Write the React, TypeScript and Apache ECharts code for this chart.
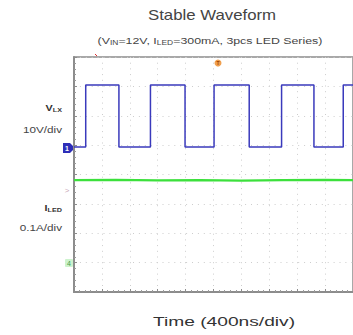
import React, { useEffect, useRef } from "react";
import * as echarts from "echarts";

// time axis in divisions (400 ns/div), vertical in divisions (0..8 from bottom)
const riseEdges = [0.42, 2.74, 5.02, 7.44, 9.65];
const fallEdges = [1.61, 3.98, 6.28, 8.6];
const vlLow = 4.94;
const vlHigh = 7.05;
const greenX = [0, 1.5, 3, 4.5, 6, 7.5, 9, 10];
const greenY = [3.81, 3.82, 3.8, 3.81, 3.79, 3.81, 3.82, 3.81];

const xTicks = [0, 1, 2, 3, 4, 5, 6, 7, 8, 9, 10];

function buildSquare(): number[][] {
  const edges: { t: number; up: boolean }[] = [
    ...riseEdges.map((t) => ({ t, up: true })),
    ...fallEdges.map((t) => ({ t, up: false })),
  ].sort((a, b) => a.t - b.t);
  const pts: number[][] = [[0, vlLow]];
  let cur = vlLow;
  for (const e of edges) {
    const next = e.up ? vlHigh : vlLow;
    pts.push([e.t, cur]);
    pts.push([e.t, next]);
    cur = next;
  }
  pts.push([10, cur]);
  return pts;
}

export default function App() {
  const ref = useRef<HTMLDivElement>(null);
  useEffect(() => {
    if (!ref.current) return;
    const chart = echarts.init(ref.current, undefined, { renderer: "svg" });
    const font = "Liberation Sans, Arial, sans-serif";
    const gridCol = "#cdcdcd";
    chart.setOption({
      animation: false,
      backgroundColor: "#ffffff",
      grid: { left: 74, top: 57, width: 285, height: 235, show: true, borderColor: "#8c8c8c", borderWidth: 1.5 },
      xAxis: {
        type: "value",
        min: 0,
        max: xTicks[xTicks.length - 1],
        interval: 1,
        axisLabel: { show: false },
        axisLine: { show: true, lineStyle: { color: "#8c8c8c", width: 2 } },
        axisTick: { show: true, inside: true, length: 3, lineStyle: { color: "#8c8c8c" } },
        minorTick: { show: true, splitNumber: 5, length: 2, lineStyle: { color: "#9a9a9a" } },
        splitLine: { show: true, lineStyle: { color: gridCol, width: 1, type: [1, 4.7] } },
      },
      yAxis: {
        type: "value",
        min: 0,
        max: 8,
        interval: 1,
        axisLabel: { show: false },
        axisLine: { show: true, lineStyle: { color: "#8c8c8c", width: 2 } },
        axisTick: { show: true, inside: true, length: 3, lineStyle: { color: "#8c8c8c" } },
        minorTick: { show: true, splitNumber: 5, length: 2, lineStyle: { color: "#9a9a9a" } },
        splitLine: { show: true, lineStyle: { color: gridCol, width: 1, type: [1, 4.9] } },
      },
      series: [
        {
          type: "line",
          data: buildSquare(),
          showSymbol: false,
          lineStyle: { color: "#3a3abc", width: 1.5 },
          z: 3,
        },
        {
          type: "line",
          data: greenX.map((x, i) => [x, greenY[i]]),
          showSymbol: false,
          lineStyle: { color: "#3ce03c", width: 2.2 },
          z: 3,
        },
      ],
      graphic: [
        { type: "text", x: 212, y: 15, scaleX: 1.2, style: { text: "Stable Waveform", font: `14px ${font}`, fill: "#444", textAlign: "center", textVerticalAlign: "middle" } },
        {
          type: "text",
          x: 210,
          y: 41,
          scaleX: 1.3,
          style: {
            text: "(V{s|IN}=12V, I{s|LED}=300mA, 3pcs LED Series)",
            font: `9.5px ${font}`,
            fill: "#444",
            textAlign: "center",
            textVerticalAlign: "middle",
            rich: { s: { fontSize: 6.5, fill: "#444", padding: [4, 0, 0, 0] } },
          },
        },
        {
          type: "text",
          x: 62,
          y: 108,
          scaleX: 1.2,
          style: {
            text: "V{s|LX}",
            font: `bold 9px ${font}`,
            fill: "#333",
            textAlign: "right",
            textVerticalAlign: "middle",
            rich: { s: { fontSize: 6, fontWeight: "bold", fill: "#333", padding: [4, 0, 0, 0] } },
          },
        },
        { type: "text", x: 62, y: 130, scaleX: 1.3, style: { text: "10V/div", font: `9px ${font}`, fill: "#444", textAlign: "right", textVerticalAlign: "middle" } },
        {
          type: "text",
          x: 62,
          y: 208,
          scaleX: 1.2,
          style: {
            text: "I{s|LED}",
            font: `bold 9px ${font}`,
            fill: "#333",
            textAlign: "right",
            textVerticalAlign: "middle",
            rich: { s: { fontSize: 6, fontWeight: "bold", fill: "#333", padding: [4, 0, 0, 0] } },
          },
        },
        { type: "text", x: 62, y: 228, scaleX: 1.3, style: { text: "0.1A/div", font: `9px ${font}`, fill: "#444", textAlign: "right", textVerticalAlign: "middle" } },
        { type: "text", x: 224, y: 322, scaleX: 1.6, style: { text: "Time (400ns/div)", font: `12px ${font}`, fill: "#333", textAlign: "center", textVerticalAlign: "middle" } },
        // channel 1 marker
        { type: "polygon", shape: { points: [[63, 143], [70, 143], [75, 148], [70, 153], [63, 153]] }, style: { fill: "#2e2eb8" } },
        { type: "text", x: 67, y: 148, style: { text: "1", font: `bold 7px ${font}`, fill: "#fff", textAlign: "center", textVerticalAlign: "middle" } },
        // reference marker
        { type: "text", x: 67, y: 190, style: { text: ">", font: `8px ${font}`, fill: "#c9a8b8", textAlign: "center", textVerticalAlign: "middle" } },
        // channel 4 marker
        { type: "rect", shape: { x: 65, y: 259, width: 8, height: 8, r: 1 }, style: { fill: "#cdf3cd" } },
        { type: "text", x: 69, y: 263, style: { text: "4", font: `7px ${font}`, fill: "#4a9a4a", textAlign: "center", textVerticalAlign: "middle" } },
        // trigger marker
        { type: "circle", shape: { cx: 218, cy: 63, r: 3.5 }, style: { fill: "#f0a050" } },
        { type: "text", x: 218, y: 63, style: { text: "T", font: `bold 5px ${font}`, fill: "#a04000", textAlign: "center", textVerticalAlign: "middle" } },
        // small red mark near top-left
        { type: "line", shape: { x1: 95, y1: 54, x2: 97, y2: 56 }, style: { stroke: "#e03030", lineWidth: 1 } },
      ],
    });
    return () => chart.dispose();
  }, []);
  return <div ref={ref} style={{ position: "fixed", left: 0, top: 0, width: 353, height: 335 }} />;
}
